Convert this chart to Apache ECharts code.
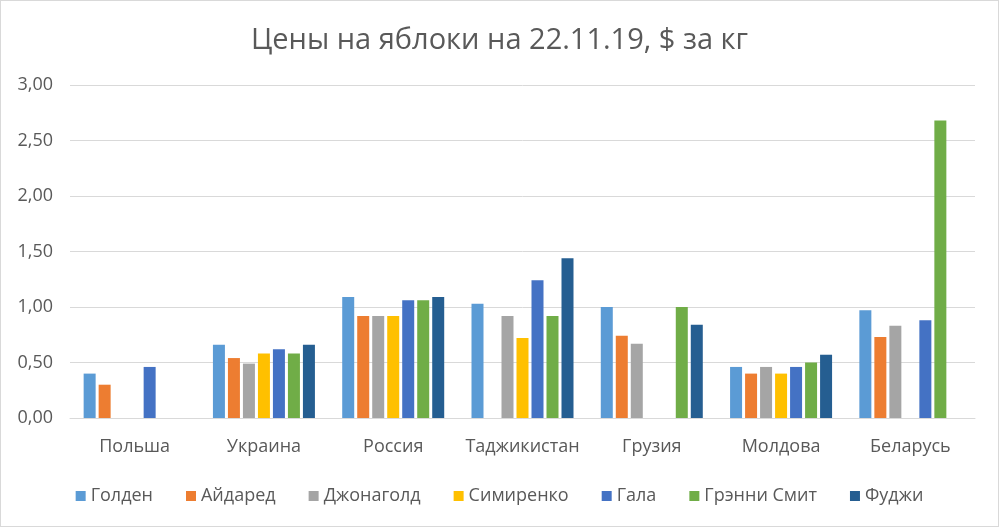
<!DOCTYPE html>
<html><head><meta charset="utf-8">
<script src="https://cdn.jsdelivr.net/npm/echarts@6/dist/echarts.min.js"></script>
<style>html,body{margin:0;padding:0;background:#fff}#c{width:999px;height:527px;box-sizing:border-box;border:1px solid #d9d9d9}</style>
</head><body><div id="c"></div>
<script>
const categories = ['Польша','Украина','Россия','Таджикистан','Грузия','Молдова','Беларусь'];
const seriesNames = ['Голден','Айдаред','Джонаголд','Симиренко','Гала','Грэнни Смит','Фуджи'];
const golden    = [0.40, 0.66, 1.09, 1.03, 1.00, 0.46, 0.97];
const aidared   = [0.30, 0.54, 0.92, null, 0.74, 0.40, 0.73];
const jonagold  = [null, 0.49, 0.92, 0.92, 0.67, 0.46, 0.83];
const simirenko = [null, 0.58, 0.92, 0.72, null, 0.40, null];
const gala      = [0.46, 0.62, 1.06, 1.24, null, 0.46, 0.88];
const granny    = [null, 0.58, 1.06, 0.92, 1.00, 0.50, 2.68];
const fuji      = [null, 0.66, 1.09, 1.44, 0.84, 0.57, null];
const yTicks = [0, 0.5, 1, 1.5, 2, 2.5, 3];
const allData = [golden, aidared, jonagold, simirenko, gala, granny, fuji];
const colors = ['#5b9bd5','#ed7d31','#a5a5a5','#ffc000','#4472c4','#70ad47','#255e91'];
const font = '"Open Sans", "Noto Sans", sans-serif';
const chart = echarts.init(document.getElementById('c'));
chart.setOption({
  animation: false,
  color: colors,
  title: {text: 'Цены на яблоки на 22.11.19, $ за кг', left: 'center', top: 20,
    textStyle: {fontFamily: font, fontSize: 29, fontWeight: 'normal', color: '#595959'}},
  legend: {bottom: 16, left: 'center', itemWidth: 10, itemHeight: 10, itemGap: 33,
    icon: 'rect', data: seriesNames,
    textStyle: {fontFamily: font, fontSize: 18, color: '#595959'}},
  grid: {left: 69, right: 23, top: 84, bottom: 108, containLabel: false},
  xAxis: {type: 'category', data: categories,
    axisLine: {lineStyle: {color: '#d9d9d9'}}, axisTick: {show: false},
    axisLabel: {fontFamily: font, fontSize: 18, color: '#595959', margin: 20, interval: 0}},
  yAxis: {type: 'value', min: yTicks[0], max: yTicks[yTicks.length-1], interval: 0.5,
    axisLine: {show: false}, axisTick: {show: false},
    splitLine: {lineStyle: {color: '#d9d9d9'}},
    axisLabel: {fontFamily: font, fontSize: 18, color: '#595959', margin: 17,
      formatter: v => v.toFixed(2).replace('.', ',')}},
  series: seriesNames.map((n, i) => ({
    name: n, type: 'bar', data: allData[i], barWidth: 12, barGap: '25%'
  }))
});
</script></body></html>
